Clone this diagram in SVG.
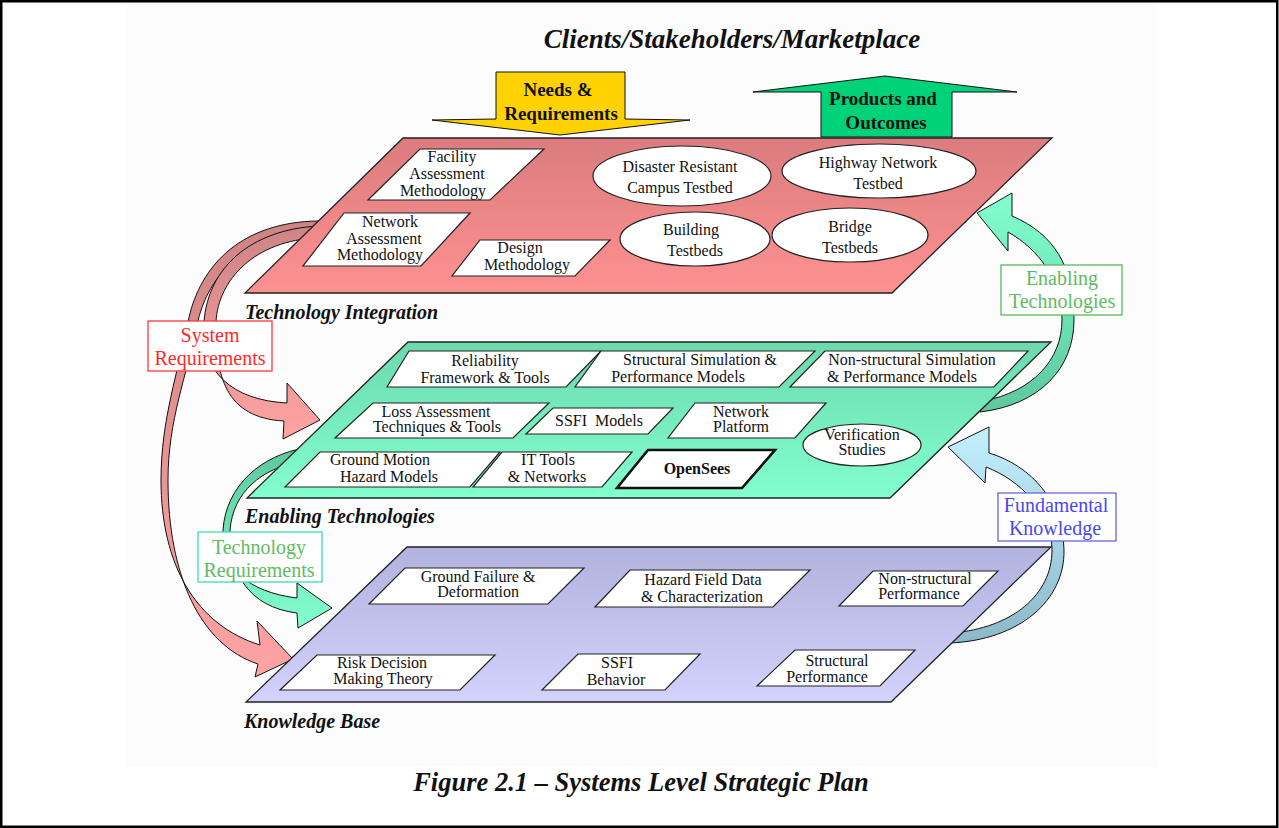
<svg xmlns="http://www.w3.org/2000/svg" width="1279" height="828" viewBox="0 0 1279 828">
<defs>
<linearGradient id="gTop" x1="0" y1="0" x2="0" y2="1"><stop offset="0" stop-color="#db7c7e"/><stop offset="1" stop-color="#fe9191"/></linearGradient>
<linearGradient id="gMid" x1="0" y1="0" x2="0" y2="1"><stop offset="0" stop-color="#6cd9ae"/><stop offset="1" stop-color="#82ffcf"/></linearGradient>
<linearGradient id="gBot" x1="0" y1="0" x2="0" y2="1"><stop offset="0" stop-color="#b2b2de"/><stop offset="1" stop-color="#d2d2fd"/></linearGradient>
<linearGradient id="gRed" x1="0" y1="0" x2="0" y2="1"><stop offset="0" stop-color="#cf8484"/><stop offset="1" stop-color="#ffa3a3"/></linearGradient>
<linearGradient id="gGrnDown" x1="0" y1="0" x2="0" y2="1"><stop offset="0" stop-color="#5ec79f"/><stop offset="1" stop-color="#82ffcf"/></linearGradient>
<linearGradient id="gGrnUp" x1="0" y1="1" x2="0" y2="0"><stop offset="0" stop-color="#5ec79f"/><stop offset="1" stop-color="#82ffcf"/></linearGradient>
<linearGradient id="gBlueUp" x1="0" y1="1" x2="0" y2="0"><stop offset="0" stop-color="#8cb9c9"/><stop offset="1" stop-color="#c3efff"/></linearGradient>
<style>
.pl{stroke:#222;stroke-width:1.3}
.bx{fill:#fff;stroke:#222;stroke-width:1.2}
.ar{stroke:#111;stroke-width:1}
.t{font-family:"Liberation Serif","Times New Roman",serif;font-size:16px;fill:#111;text-anchor:middle}
.pt{font-family:"Liberation Serif","Times New Roman",serif;font-size:20px;font-weight:bold;font-style:italic;fill:#111}
.lb{font-family:"Liberation Serif","Times New Roman",serif;font-size:20px;text-anchor:middle}
.bt{font-family:"Liberation Serif","Times New Roman",serif;font-size:19px;font-weight:bold;fill:#111;text-anchor:middle}
</style>
</defs>
<rect x="0" y="0" width="1279" height="828" fill="#fff"/>
<rect x="125" y="0" width="1032" height="767" fill="#fcfcfc"/>
<rect x="1.25" y="1.25" width="1276" height="825.5" fill="none" stroke="#000" stroke-width="2.5"/>

<text x="732" y="48" font-family="Liberation Serif, Times New Roman, serif" font-size="27" font-weight="bold" font-style="italic" text-anchor="middle" fill="#111">Clients/Stakeholders/Marketplace</text>

<g id="connectors">
<path class="ar" fill="url(#gRed)" d="M 318,221 C 245,222 200,262 188,322 C 178,372 161,420 161,480 C 161,565 196,625 260,645 L 257,621 L 293,659 L 255,677 L 258,664 C 200,645 168,575 168,480 C 168,420 187,375 197,325 C 208,272 250,232 318,231 Z"/>
<path class="ar" fill="url(#gRed)" d="M 318,226 C 250,230 208,268 204,322 C 200,372 232,400 287,403 L 287,383 L 320,420 L 283,439 L 284,421 C 225,418 215,375 216,322 C 218,280 255,240 318,238 Z"/>
<path class="ar" fill="url(#gGrnDown)" d="M 305,448 C 262,455 226,485 223,530 C 221,568 248,592 297,598 L 297,583 L 332,608 L 298,628 L 297,613 C 248,607 229,572 230,530 C 233,492 262,468 300,462 Z"/>
<path class="ar" fill="url(#gGrnUp)" d="M 980,412 C 1040,405 1074,368 1074,320 C 1074,266 1054,234 1012,216 L 1012,193 L 977,213 L 1008,251 L 1008,232 C 1040,250 1062,282 1062,320 C 1062,360 1032,392 983,401 Z"/>
<path class="ar" fill="url(#gBlueUp)" d="M 950,643 C 1020,640 1065,600 1064,550 C 1063,502 1032,466 989,453 L 989,427 L 948,447 L 985,483 L 986,467 C 1020,480 1052,512 1052,550 C 1052,595 1012,628 952,633 Z"/>
<polygon class="ar" fill="#ffd200" points="496,72 625,72 625,119 690,120 560,135 432,120 496,119"/>
<polygon class="ar" fill="#00d27a" points="885,76 1017,92 952,92 952,137 821,137 821,92 753,92"/>
</g>

<g id="arrow-labels">
<text class="bt" x="558" y="96">Needs &amp;</text>
<text class="bt" x="561" y="120">Requirements</text>
<text class="bt" x="883" y="105">Products and</text>
<text class="bt" x="886" y="129">Outcomes</text>
</g>

<g id="plane-technology-integration">
<polygon class="pl" fill="url(#gTop)" points="403,138 1052,138 892,293 245,293"/>
<text class="pt" x="245" y="319">Technology Integration</text>
</g>
<g id="plane-enabling-technologies">
<polygon class="pl" fill="url(#gMid)" points="408,342 1051,342 890,498 247,498"/>
<text class="pt" x="245" y="523">Enabling Technologies</text>
</g>
<g id="plane-knowledge-base">
<polygon class="pl" fill="url(#gBot)" points="407,547 1051,547 891,702 246,702"/>
<text class="pt" x="244" y="728">Knowledge Base</text>
</g>

<g id="n-facility">
<polygon class="bx" points="420,149 544,149 490,200 368,200"/>
<text class="t" x="452" y="162">Facility</text>
<text class="t" x="447" y="179">Assessment</text>
<text class="t" x="443" y="196">Methodology</text>
</g>
<g id="n-network-assessment">
<polygon class="bx" points="344,213 470,213 421,266 303,266"/>
<text class="t" x="390" y="227">Network</text>
<text class="t" x="384" y="244">Assessment</text>
<text class="t" x="380" y="260">Methodology</text>
</g>
<g id="n-design">
<polygon class="bx" points="480,240 610,240 575,276 452,276"/>
<text class="t" x="520" y="253">Design</text>
<text class="t" x="527" y="270">Methodology</text>
</g>
<g id="n-campus">
<ellipse class="bx" cx="682" cy="176" rx="89" ry="30"/>
<text class="t" x="680" y="172">Disaster Resistant</text>
<text class="t" x="680" y="193">Campus Testbed</text>
</g>
<g id="n-highway">
<ellipse class="bx" cx="879" cy="171" rx="97" ry="27"/>
<text class="t" x="878" y="168">Highway Network</text>
<text class="t" x="878" y="189">Testbed</text>
</g>
<g id="n-building">
<ellipse class="bx" cx="695" cy="239" rx="75" ry="27"/>
<text class="t" x="691" y="235">Building</text>
<text class="t" x="695" y="256">Testbeds</text>
</g>
<g id="n-bridge">
<ellipse class="bx" cx="850" cy="235" rx="78" ry="27"/>
<text class="t" x="850" y="232">Bridge</text>
<text class="t" x="850" y="253">Testbeds</text>
</g>

<g id="n-reliability">
<polygon class="bx" points="409,351 601,351 566,387 387,387"/>
<text class="t" x="485" y="366">Reliability</text>
<text class="t" x="485" y="383">Framework &amp; Tools</text>
</g>
<g id="n-structural-sim">
<polygon class="bx" points="601,351 815,351 779,387 575,387"/>
<text class="t" x="700" y="365">Structural Simulation &amp;</text>
<text class="t" x="678" y="382">Performance Models</text>
</g>
<g id="n-nonstructural-sim">
<polygon class="bx" points="825,351 1028,351 994,387 790,387"/>
<text class="t" x="912" y="365">Non-structural Simulation</text>
<text class="t" x="902" y="382">&amp; Performance Models</text>
</g>
<g id="n-loss">
<polygon class="bx" points="373,403 549,403 513,438 335,438"/>
<text class="t" x="436" y="417">Loss Assessment</text>
<text class="t" x="437" y="432">Techniques &amp; Tools</text>
</g>
<g id="n-ssfi-models">
<polygon class="bx" points="553,408 673,408 648,434 526,434"/>
<text class="t" x="599" y="426" xml:space="preserve">SSFI  Models</text>
</g>
<g id="n-network-platform">
<polygon class="bx" points="695,403 826,403 795,438 668,438"/>
<text class="t" x="741" y="417">Network</text>
<text class="t" x="741" y="432">Platform</text>
</g>
<g id="n-verification">
<ellipse class="bx" cx="862" cy="445" rx="59" ry="21"/>
<text class="t" x="862" y="440">Verification</text>
<text class="t" x="862" y="455">Studies</text>
</g>
<g id="n-ground-motion">
<polygon class="bx" points="320,452 500,452 470,487 285,487"/>
<text class="t" x="380" y="465">Ground Motion</text>
<text class="t" x="389" y="482">Hazard Models</text>
</g>
<g id="n-it-tools">
<polygon class="bx" points="502,452 632,452 602,487 473,487"/>
<text class="t" x="548" y="465">IT Tools</text>
<text class="t" x="547" y="482">&amp; Networks</text>
</g>
<g id="n-opensees">
<polygon fill="#fff" stroke="#111" stroke-width="2.6" points="648,450 775,450 742,488 617,488"/>
<text class="t" x="697" y="474" font-weight="bold">OpenSees</text>
</g>

<g id="n-ground-failure">
<polygon class="bx" points="405,568 584,568 548,604 369,604"/>
<text class="t" x="478" y="582">Ground Failure &amp;</text>
<text class="t" x="478" y="597">Deformation</text>
</g>
<g id="n-hazard-field">
<polygon class="bx" points="630,570 810,570 773,607 595,607"/>
<text class="t" x="703" y="585">Hazard Field Data</text>
<text class="t" x="702" y="602">&amp; Characterization</text>
</g>
<g id="n-nonstructural-perf">
<polygon class="bx" points="873,571 998,571 963,606 839,606"/>
<text class="t" x="925" y="584">Non-structural</text>
<text class="t" x="919" y="599">Performance</text>
</g>
<g id="n-risk">
<polygon class="bx" points="317,655 495,655 460,690 280,690"/>
<text class="t" x="382" y="668">Risk Decision</text>
<text class="t" x="383" y="684">Making Theory</text>
</g>
<g id="n-ssfi-behavior">
<polygon class="bx" points="578,654 700,654 665,690 542,690"/>
<text class="t" x="617" y="668">SSFI</text>
<text class="t" x="616" y="685">Behavior</text>
</g>
<g id="n-structural-perf">
<polygon class="bx" points="795,650 915,650 880,686 757,686"/>
<text class="t" x="837" y="666">Structural</text>
<text class="t" x="827" y="682">Performance</text>
</g>

<g id="l-system-requirements">
<rect x="148" y="321" width="124" height="50" fill="#fff" stroke="#ff3838" stroke-width="1.3"/>
<text class="lb" x="210" y="342" fill="#ff2a2a">System</text>
<text class="lb" x="210" y="365" fill="#ff2a2a">Requirements</text>
</g>
<g id="l-technology-requirements">
<rect x="198" y="532" width="124" height="50" fill="#fff" stroke="#3cdcb4" stroke-width="1.3"/>
<text class="lb" x="259" y="554" fill="#5fbb5f">Technology</text>
<text class="lb" x="259" y="577" fill="#5fbb5f">Requirements</text>
</g>
<g id="l-enabling-technologies">
<rect x="1001" y="265" width="121" height="50" fill="#fff" stroke="#55bb55" stroke-width="1.3"/>
<text class="lb" x="1062" y="285" fill="#5fbb5f">Enabling</text>
<text class="lb" x="1062" y="308" fill="#5fbb5f">Technologies</text>
</g>
<g id="l-fundamental-knowledge">
<rect x="998" y="493" width="118" height="48" fill="#fff" stroke="#6666dd" stroke-width="1.3"/>
<text class="lb" x="1056" y="512" fill="#4848ee">Fundamental</text>
<text class="lb" x="1055" y="535" fill="#4848ee">Knowledge</text>
</g>

<text x="641" y="791" font-family="Liberation Serif, Times New Roman, serif" font-size="26.5" font-weight="bold" font-style="italic" text-anchor="middle" fill="#111">Figure 2.1 – Systems Level Strategic Plan</text>
</svg>
